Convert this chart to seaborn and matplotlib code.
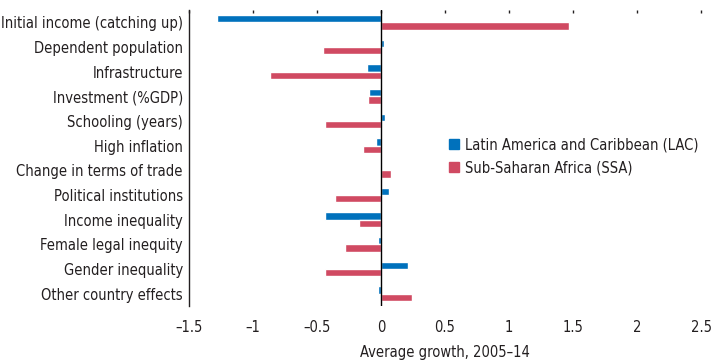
import numpy as np
import pandas as pd
import matplotlib
matplotlib.use("Agg")
import matplotlib.pyplot as plt
import matplotlib.font_manager as fm
import seaborn as sns
from matplotlib.patches import Patch

# contributions to average growth, 2005-14
factors = ["Initial income (catching up)", "Dependent population", "Infrastructure",
           "Investment (%GDP)", "Schooling (years)", "High inflation",
           "Change in terms of trade", "Political institutions", "Income inequality",
           "Female legal inequity", "Gender inequality", "Other country effects"]
lac = [-1.28, 0.02, -0.11, -0.09, 0.03, -0.04, 0.01, 0.06, -0.44, -0.02, 0.21, -0.02]
ssa = [1.47, -0.45, -0.87, -0.10, -0.44, -0.14, 0.08, -0.36, -0.17, -0.28, -0.44, 0.24]
regions = ["Latin America and Caribbean (LAC)", "Sub-Saharan Africa (SSA)"]
xticks = [-1.5, -1, -0.5, 0, 0.5, 1, 1.5, 2, 2.5]

sns.set_style("white")

# look for a narrow font, the original uses a condensed face
narrow = [f for f in fm.fontManager.ttflist
          if f.weight in (400, "normal", "regular") and f.style == "normal"
          and ("Narrow" in f.name or "Condensed" in f.name
               or "Condensed" in f.fname or "Narrow" in f.fname)]
if narrow:
    plt.rcParams["font.family"] = [narrow[0].name, "DejaVu Sans"]
    plt.rcParams["font.stretch"] = narrow[0].stretch
    fs = 10.5
else:
    plt.rcParams["font.family"] = ["Liberation Sans", "DejaVu Sans"]
    fs = 9.5
txt = "#231f20"
colors = ["#0071bc", "#d04a62"]

df = pd.DataFrame({
    "factor": factors * 2,
    "value": lac + ssa,
    "region": [regions[0]] * len(factors) + [regions[1]] * len(factors),
})

fig = plt.figure(figsize=(7.13, 3.62), dpi=100)
ax = fig.add_axes([189 / 713, 1 - 306 / 362, 512 / 713, 296 / 362])

sns.barplot(data=df, x="value", y="factor", hue="region", orient="h",
            palette=colors, width=0.6, legend=False, ax=ax, saturation=1)

ax.set_xlim(-1.5, 2.5)
ax.set_ylim(len(factors) - 0.5, -0.5)
ax.axvline(0, color="black", lw=1)

for s in ["top", "right", "bottom"]:
    ax.spines[s].set_visible(False)
ax.spines["left"].set_color(txt)
ax.spines["left"].set_linewidth(1)

# category labels at centres, separator ticks at boundaries
ax.set_yticks(range(len(factors)))
ax.set_yticklabels(factors)
ax.set_yticks(np.arange(-0.5, len(factors), 1), minor=True)
ax.tick_params(axis="y", which="major", length=0, pad=4.5, labelsize=fs, labelcolor=txt)
ax.tick_params(axis="y", which="minor", direction="in", length=5, width=1, color=txt)

ax.set_xticks(xticks)
ax.set_xticklabels([("%g" % t).replace("-", "\u2013") for t in xticks])
ax.tick_params(axis="x", direction="in", length=2.5, width=1, color=txt, pad=10,
               top=True, labelsize=fs, labelcolor=txt)
ax.set_xlabel("Average growth, 2005\u201314", fontsize=fs, color=txt, labelpad=7)
ax.set_ylabel("")

handles = [Patch(color=c, label=r) for c, r in zip(colors, regions)]
fig.legend(handles=handles, loc="upper left", bbox_to_anchor=(449 / 713, 1 - 137 / 362),
           frameon=False, fontsize=fs, handlelength=0.7, handleheight=0.7,
           handletextpad=0.4, labelspacing=0.55, borderaxespad=0, borderpad=0,
           labelcolor=txt)

fig.savefig("out.png", dpi=100)
